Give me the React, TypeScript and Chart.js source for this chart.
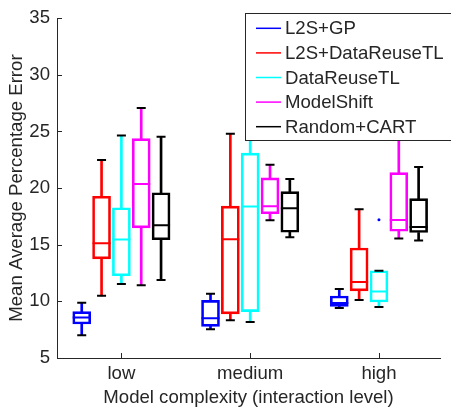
import React, { useEffect, useRef } from 'react';
import { Chart, registerables } from 'chart.js';

Chart.register(...registerables);

const categories = ['low', 'medium', 'high'];
const seriesNames = ['L2S+GP', 'L2S+DataReuseTL', 'DataReuseTL', 'ModelShift', 'Random+CART'];
const seriesColors = ['#0000ff', '#ff0000', '#00ffff', '#ff00ff', '#000000'];
const yTicks = [5, 10, 15, 20, 25, 30, 35];

// [min, q1, median, q3, max] for low, medium, high
const l2sGp = [
  [7.0, 8.0, 8.58, 9.1, 9.88],
  [7.53, 7.79, 8.52, 10.09, 10.67],
  [9.42, 9.56, 9.86, 10.47, 11.1],
];
const l2sDataReuseTL = [
  [10.49, 13.75, 15.14, 19.28, 22.47],
  [8.34, 8.9, 15.49, 18.4, 24.8],
  [10.12, 10.93, 11.71, 14.71, 18.14],
];
const dataReuseTL = [
  [11.54, 12.26, 15.47, 18.26, 24.65],
  [8.17, 9.1, 18.37, 23.08, 26.5],
  [9.51, 9.94, 10.87, 12.7, 12.7],
];
const modelShift = [
  [11.43, 16.48, 20.35, 24.36, 27.06],
  [17.15, 17.73, 18.4, 20.9, 22.07],
  [15.55, 16.19, 17.18, 21.37, 26.0],
];
const randomCart = [
  [11.89, 15.44, 16.71, 19.59, 24.53],
  [15.67, 16.1, 18.23, 19.68, 20.81],
  [15.38, 16.08, 16.57, 19.07, 21.86],
];
const seriesStats = [l2sGp, l2sDataReuseTL, dataReuseTL, modelShift, randomCart];

// outlier marks: category index, slot index, value (drawn in blue)
const outlierCategory = [2];
const outlierSlot = [2];
const outlierValue = [17.2];

const SLOT = 0.154;
const slotX = (cat: number, slot: number) => cat + 1 + (slot - 2) * SLOT;

const FONT = '"Liberation Sans", Arial, Helvetica, sans-serif';
const FS = 18.6;
const TEXT = '#262626';

const overlayPlugin = {
  id: 'overlay',
  afterDraw(chart: any) {
    const ctx = chart.ctx as CanvasRenderingContext2D;
    const xs = chart.scales.x;
    const ys = chart.scales.y;
    const area = chart.chartArea;
    ctx.save();
    ctx.strokeStyle = TEXT;
    ctx.lineWidth = 1;
    ctx.beginPath();
    yTicks.forEach((v) => {
      const py = Math.round(ys.getPixelForValue(v)) + 0.5;
      ctx.moveTo(area.left, py);
      ctx.lineTo(area.left + 5, py);
    });
    categories.forEach((_, i) => {
      const px = Math.round(xs.getPixelForValue(i + 1)) + 0.5;
      ctx.moveTo(px, area.bottom);
      ctx.lineTo(px, area.bottom - 5);
    });
    ctx.stroke();

    // legend
    const lx = 245.5;
    const ly = 13.5;
    const lw = 230;
    const lh = 127;
    ctx.fillStyle = '#ffffff';
    ctx.fillRect(lx, ly, lw, lh);
    ctx.strokeStyle = TEXT;
    ctx.lineWidth = 1;
    ctx.strokeRect(lx, ly, lw, lh);
    ctx.font = `${FS}px ${FONT}`;
    ctx.textBaseline = 'middle';
    ctx.textAlign = 'left';
    seriesNames.forEach((name, i) => {
      const y = 28.3 + i * 24.6;
      ctx.strokeStyle = seriesColors[i];
      ctx.lineWidth = 1.5;
      ctx.beginPath();
      ctx.moveTo(256, y);
      ctx.lineTo(281, y);
      ctx.stroke();
      ctx.fillStyle = TEXT;
      ctx.fillText(name, 285, y + 1);
    });
    ctx.restore();
  },
};

export default function App() {
  const ref = useRef<HTMLCanvasElement>(null);
  useEffect(() => {
    if (!ref.current) return;
    const datasets: any[] = [];
    // medians
    seriesStats.forEach((stats, s) => {
      datasets.push({
        type: 'scatter',
        data: stats.map((st, c) => ({ x: slotX(c, s), y: st[2] })),
        pointStyle: 'line',
        pointRadius: 9,
        borderColor: seriesColors[s],
        backgroundColor: seriesColors[s],
        borderWidth: 2,
      });
    });
    // caps
    seriesStats.forEach((stats, s) => {
      const pts: any[] = [];
      stats.forEach((st, c) => {
        pts.push({ x: slotX(c, s), y: st[0] });
        pts.push({ x: slotX(c, s), y: st[4] });
      });
      datasets.push({
        type: 'scatter',
        data: pts,
        pointStyle: 'line',
        pointRadius: 4.5,
        borderColor: '#000000',
        backgroundColor: '#000000',
        borderWidth: 2,
      });
    });
    // outliers
    datasets.push({
      type: 'scatter',
      data: outlierValue.map((v, i) => ({ x: slotX(outlierCategory[i], outlierSlot[i]), y: v })),
      pointStyle: 'circle',
      pointRadius: 1.5,
      borderWidth: 0,
      backgroundColor: '#0000ff',
    });
    // boxes
    seriesStats.forEach((stats, s) => {
      datasets.push({
        type: 'bar',
        data: stats.map((st, c) => ({ x: slotX(c, s), y: [st[1], st[3]] })),
        backgroundColor: 'rgba(0,0,0,0)',
        borderColor: seriesColors[s],
        borderWidth: 2,
        borderSkipped: false,
        barThickness: 18,
        grouped: false,
      });
    });
    // whiskers
    seriesStats.forEach((stats, s) => {
      const pts: any[] = [];
      stats.forEach((st, c) => {
        pts.push({ x: slotX(c, s), y: [st[0], st[1]] });
        pts.push({ x: slotX(c, s), y: [st[3], st[4]] });
      });
      datasets.push({
        type: 'bar',
        data: pts,
        backgroundColor: seriesColors[s],
        borderWidth: 0,
        barThickness: 2,
        grouped: false,
      });
    });

    const chart = new Chart(ref.current, {
      type: 'bar',
      data: { datasets },
      options: {
        animation: false,
        responsive: false,
        devicePixelRatio: 1,
        events: [],
        layout: { padding: { top: 14, right: 0, left: 0, bottom: 0 } },
        plugins: { legend: { display: false }, tooltip: { enabled: false } },
        scales: {
          x: {
            type: 'linear',
            offset: false,
            min: 0.5,
            max: 3.474,
            grid: { display: false, drawTicks: false, offset: false },
            border: { display: true, color: TEXT, width: 1 },
            afterBuildTicks: (scale: any) => {
              scale.ticks = categories.map((_, i) => ({ value: i + 1 }));
            },
            afterFit: (scale: any) => {
              scale.height = 51;
            },
            ticks: {
              padding: 5,
              color: TEXT,
              font: { family: FONT, size: FS },
              maxRotation: 0,
              autoSkip: false,
              callback: (v: any) => categories[Math.round(Number(v)) - 1] ?? '',
            },
            title: {
              display: true,
              text: 'Model complexity (interaction level)',
              color: TEXT,
              font: { family: FONT, size: FS },
              padding: { top: 0, bottom: 0 },
            },
          },
          y: {
            type: 'linear',
            min: 5,
            max: 35,
            grid: { display: false, drawTicks: false },
            border: { display: true, color: TEXT, width: 1 },
            afterBuildTicks: (scale: any) => {
              scale.ticks = yTicks.map((v) => ({ value: v }));
            },
            afterFit: (scale: any) => {
              scale.width = 57;
            },
            ticks: {
              padding: 7,
              color: TEXT,
              font: { family: FONT, size: FS },
            },
            title: {
              display: true,
              text: 'Mean Average Percentage Error',
              color: TEXT,
              font: { family: FONT, size: FS },
              padding: { top: 6, bottom: 0 },
            },
          },
        },
      } as any,
      plugins: [overlayPlugin],
    });
    return () => chart.destroy();
  }, []);

  return (
    <div style={{ position: 'absolute', left: 0, top: 0, width: 451, height: 409, background: '#fff' }}>
      <canvas ref={ref} width={451} height={409} style={{ display: 'block' }} />
    </div>
  );
}
